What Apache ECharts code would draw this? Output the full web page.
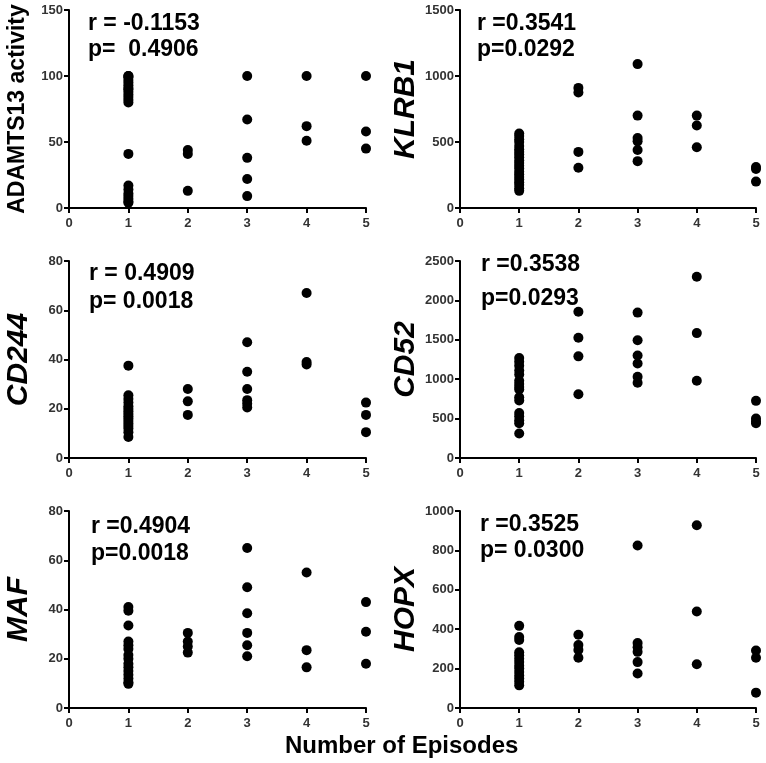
<!DOCTYPE html>
<html>
<head>
<meta charset="utf-8">
<script src="https://cdn.jsdelivr.net/npm/echarts@6/dist/echarts.min.js"></script>
<style>
  html, body { margin: 0; padding: 0; background: #fff; }
  #chart { width: 766px; height: 763px; }
</style>
</head>
<body>
<div id="chart"></div>
<script>
// values per episode group (index 0 = 1 episode ... index 4 = 5 episodes)
var episodes = [1, 2, 3, 4, 5];
var xTicks = ['0', '1', '2', '3', '4', '5'];

var adamts13 = [
    [100, 100, 99, 97, 95, 93, 91, 90, 88, 86, 84, 82, 80, 41, 17, 14, 11, 9, 7, 5, 4],
    [44, 41, 13],
    [100, 67, 38, 22, 9],
    [100, 62, 51],
    [100, 58, 45]
];
var klrb1 = [
    [565, 545, 520, 500, 470, 445, 425, 405, 385, 360, 340, 320, 300, 275, 255, 235, 215, 195, 175, 150, 130],
    [910, 875, 425, 305],
    [1090, 700, 530, 505, 440, 355],
    [700, 625, 460],
    [310, 295, 200]
];
var cd244 = [
    [37.5, 25.5, 24, 22.5, 21, 20, 19, 18, 17, 16, 15, 14, 13, 12, 10.5, 8.5],
    [28, 23, 17.5],
    [47, 35, 28, 23.5, 22, 20.5],
    [67, 39, 38],
    [22.5, 17.5, 10.5]
];
var cd52 = [
    [1270, 1220, 1170, 1110, 1060, 980, 940, 900, 870, 770, 730, 570, 530, 480, 440, 310],
    [1855, 1525, 1290, 810],
    [1845, 1495, 1300, 1200, 1030, 955],
    [2300, 1585, 980],
    [725, 500, 465, 440]
];
var maf = [
    [41, 39.5, 33.5, 27, 25.5, 24, 21.5, 20, 18, 16.5, 15, 13.5, 12, 10.5, 9.8],
    [30.5, 27, 25, 22.5],
    [65, 49, 38.5, 30.5, 25.5, 21],
    [55, 23.5, 16.5],
    [43, 31, 18]
];
var hopx = [
    [417, 360, 345, 283, 268, 250, 233, 215, 200, 183, 165, 150, 133, 115],
    [372, 320, 295, 255],
    [825, 330, 308, 285, 233, 175],
    [928, 490, 222],
    [292, 255, 78]
];

var panelNames = ['ADAMTS13 activity', 'KLRB1', 'CD244', 'CD52', 'MAF', 'HOPX'];
var panelData = [adamts13, klrb1, cd244, cd52, maf, hopx];
var yMax = [150, 1500, 80, 2500, 80, 1000];
var yStep = [50, 500, 20, 500, 20, 200];
var rLabels = ['r = -0.1153', 'r =0.3541', 'r = 0.4909', 'r =0.3538', 'r =0.4904', 'r =0.3525'];
var pLabels = ['p=  0.4906', 'p=0.0292', 'p= 0.0018', 'p=0.0293', 'p=0.0018', 'p= 0.0300'];

function toPoints(groups) {
    var pts = [];
    groups.forEach(function (vals, i) {
        vals.forEach(function (v) { pts.push([episodes[i], v]); });
    });
    return pts;
}

var chart = echarts.init(document.getElementById('chart'));

var gridPos = [
    { left: 69, top: 10, width: 297, height: 198 },
    { left: 460, top: 10, width: 296, height: 198 },
    { left: 69, top: 261, width: 297, height: 197 },
    { left: 460, top: 261, width: 296, height: 197 },
    { left: 69, top: 511, width: 297, height: 197 },
    { left: 460, top: 511, width: 296, height: 197 }
];
var textPos = [
    [88, 24, 50], [477, 24, 50],
    [89, 274, 302], [481, 265, 299],
    [91, 527, 554], [480, 525, 551]
];

var axisLine = { lineStyle: { color: '#000', width: 2 } };
var axisTick = { length: 5, lineStyle: { color: '#000', width: 2 } };
var tickFont = { color: '#333', fontSize: 13, fontWeight: 'bold', fontFamily: 'Liberation Sans, Arial' };

var grids = [], xAxes = [], yAxes = [], series = [], graphics = [];
panelNames.forEach(function (name, i) {
    grids.push(Object.assign({ containLabel: false }, gridPos[i]));
    xAxes.push({
        type: 'value', gridIndex: i, min: 0, max: 5, interval: 1,
        splitLine: { show: false }, axisLine: axisLine, axisTick: axisTick,
        axisLabel: Object.assign({ margin: 9, formatter: function (v) { return xTicks[v]; } }, tickFont)
    });
    var isGene = i > 0;
    yAxes.push({
        type: 'value', gridIndex: i, min: 0, max: yMax[i], interval: yStep[i],
        splitLine: { show: false }, axisLine: axisLine, axisTick: axisTick,
        axisLabel: Object.assign({ margin: 6, formatter: function (v) { return String(v); } }, tickFont),
        name: name, nameLocation: 'middle', nameRotate: 90,
        nameGap: isGene ? 35 : 40,
        nameTextStyle: {
            color: '#000', fontWeight: 'bold', fontFamily: 'Liberation Sans, Arial',
            fontSize: isGene ? 30 : 23, fontStyle: isGene ? 'italic' : 'normal'
        }
    });
    series.push({
        type: 'scatter', xAxisIndex: i, yAxisIndex: i,
        symbol: 'circle', symbolSize: 10,
        itemStyle: { color: '#000', opacity: 1 },
        data: toPoints(panelData[i])
    });
    [rLabels[i], pLabels[i]].forEach(function (t, k) {
        graphics.push({
            type: 'text', left: textPos[i][0], top: textPos[i][k + 1] - 12,
            style: { text: t, fill: '#000', font: 'bold 23px "Liberation Sans", Arial' }
        });
    });
});

graphics.push({
    type: 'text', left: 285, top: 734,
    style: { text: 'Number of Episodes', fill: '#000', font: 'bold 24px "Liberation Sans", Arial' }
});

chart.setOption({
    animation: false,
    grid: grids,
    xAxis: xAxes,
    yAxis: yAxes,
    series: series,
    graphic: graphics
});
</script>
</body>
</html>
